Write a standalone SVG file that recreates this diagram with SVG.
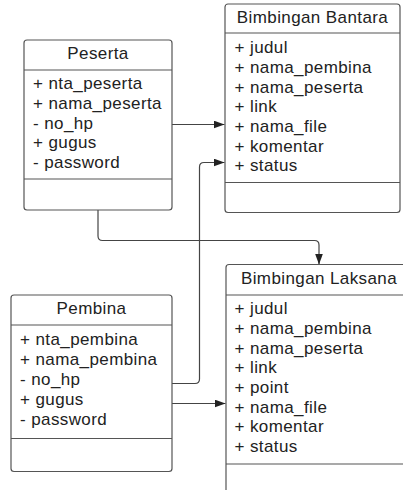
<svg xmlns="http://www.w3.org/2000/svg" width="403" height="490" viewBox="0 0 403 490">
<style>
.box{fill:#fff;stroke:#555;stroke-width:1.2}
.div{stroke:#555;stroke-width:1.2}
.t{font-family:"Liberation Sans",Arial,sans-serif;font-size:17px;letter-spacing:0.4px;fill:#222}
.c{text-anchor:middle}
.con{fill:none;stroke:#444;stroke-width:1.2}
</style>
<defs>
<marker id="ah" markerWidth="12" markerHeight="8" refX="11" refY="4" orient="auto" markerUnits="userSpaceOnUse">
<path d="M0,0 L11,4 L0,8 Z" fill="#222"/>
</marker>
</defs>
<rect width="403" height="490" fill="#fff"/>
<g id="connectors">
<path class="con" d="M172,124.5 H224.5" marker-end="url(#ah)"/>
<path class="con" d="M172,383.5 H195 Q199.5,383.5 199.5,379 V167 Q199.5,162.5 204,162.5 H224.5" marker-end="url(#ah)"/>
<path class="con" d="M98,210 V236 Q98,240.5 102.5,240.5 H314.5 Q319,240.5 319,245 V264.5" marker-end="url(#ah)"/>
<path class="con" d="M172,403.5 H225.5" marker-end="url(#ah)"/>
</g>
<g id="peserta">
<rect class="box" x="24" y="40" width="148" height="170" rx="3"/>
<line class="div" x1="24" y1="70" x2="172" y2="70"/>
<line class="div" x1="24" y1="179" x2="172" y2="179"/>
<text class="t c" x="98" y="59">Peserta</text>
<text class="t" x="33" y="89">+ nta_peserta</text>
<text class="t" x="33" y="109">+ nama_peserta</text>
<text class="t" x="33" y="128.5">- no_hp</text>
<text class="t" x="33" y="148">+ gugus</text>
<text class="t" x="33" y="168">- password</text>
</g>
<g id="bantara">
<rect class="box" x="225" y="4" width="175" height="208.5" rx="3"/>
<line class="div" x1="225" y1="33" x2="400" y2="33"/>
<line class="div" x1="225" y1="182.5" x2="400" y2="182.5"/>
<text class="t c" x="312.5" y="22.5">Bimbingan Bantara</text>
<text class="t" x="234.5" y="52.5">+ judul</text>
<text class="t" x="234.5" y="72.5">+ nama_pembina</text>
<text class="t" x="234.5" y="92.5">+ nama_peserta</text>
<text class="t" x="234.5" y="112">+ link</text>
<text class="t" x="234.5" y="131.5">+ nama_file</text>
<text class="t" x="234.5" y="151.5">+ komentar</text>
<text class="t" x="234.5" y="171">+ status</text>
</g>
<g id="pembina">
<rect class="box" x="11" y="295" width="161" height="176.5" rx="3"/>
<line class="div" x1="11" y1="325" x2="172" y2="325"/>
<line class="div" x1="11" y1="438.5" x2="172" y2="438.5"/>
<text class="t c" x="91.5" y="313.5">Pembina</text>
<text class="t" x="20" y="345">+ nta_pembina</text>
<text class="t" x="20" y="365">+ nama_pembina</text>
<text class="t" x="20" y="385">- no_hp</text>
<text class="t" x="20" y="405">+ gugus</text>
<text class="t" x="20" y="425">- password</text>
</g>
<g id="laksana">
<rect class="box" x="226" y="264.5" width="186" height="240" rx="3"/>
<line class="div" x1="226" y1="295" x2="412" y2="295"/>
<line class="div" x1="226" y1="464" x2="412" y2="464"/>
<text class="t c" x="319" y="283.5">Bimbingan Laksana</text>
<text class="t" x="234.5" y="314">+ judul</text>
<text class="t" x="234.5" y="334">+ nama_pembina</text>
<text class="t" x="234.5" y="353.5">+ nama_peserta</text>
<text class="t" x="234.5" y="373">+ link</text>
<text class="t" x="234.5" y="393">+ point</text>
<text class="t" x="234.5" y="412.5">+ nama_file</text>
<text class="t" x="234.5" y="432">+ komentar</text>
<text class="t" x="234.5" y="452">+ status</text>
</g>
</svg>
